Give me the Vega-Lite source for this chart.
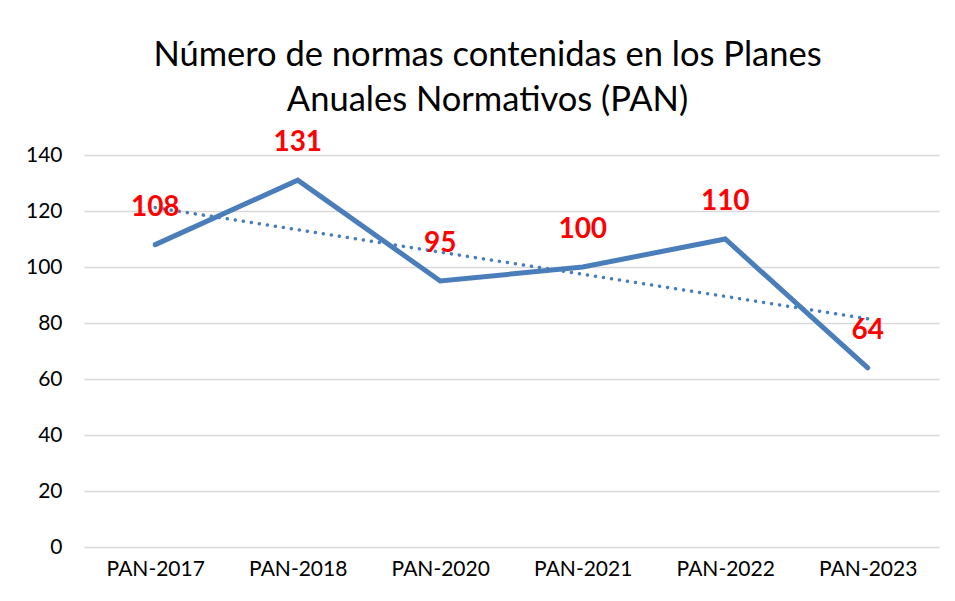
{
  "$schema": "https://vega.github.io/schema/vega-lite/v6.json",
  "width": 855,
  "height": 392,
  "autosize": {"type": "none"},
  "padding": {"left": 84, "top": 155, "right": 16, "bottom": 54},
  "background": "white",
  "title": {
    "text": ["Número de normas contenidas en los Planes", "Anuales Normativos (PAN)"],
    "font": "Lato",
    "fontSize": 34.5,
    "fontWeight": "normal",
    "color": "#000000",
    "lineHeight": 45,
    "anchor": "middle",
    "dx": -24,
    "offset": 11
  },
  "data": {
    "values": [
      {"plan": "PAN-2017", "normas": 108, "tendencia": 121.2},
      {"plan": "PAN-2018", "normas": 131, "tendencia": 113.3},
      {"plan": "PAN-2020", "normas": 95, "tendencia": 105.3},
      {"plan": "PAN-2021", "normas": 100, "tendencia": 97.4},
      {"plan": "PAN-2022", "normas": 110, "tendencia": 89.5},
      {"plan": "PAN-2023", "normas": 64, "tendencia": 81.5}
    ]
  },
  "encoding": {
    "x": {
      "field": "plan",
      "type": "ordinal",
      "sort": null,
      "scale": {"type": "point", "padding": 0.5},
      "axis": {
        "title": null,
        "labelAngle": 0,
        "labelFont": "Lato",
        "labelFontSize": 21,
        "labelColor": "#000000",
        "labelPadding": 11,
        "domain": false,
        "ticks": false,
        "grid": false
      }
    }
  },
  "layer": [
    {
      "mark": {"type": "line", "color": "#4a7ebb", "strokeWidth": 5, "strokeCap": "round", "strokeJoin": "miter"},
      "encoding": {
        "y": {
          "field": "normas",
          "type": "quantitative",
          "scale": {"domain": [0, 140]},
          "axis": {
            "title": null,
            "values": [0, 20, 40, 60, 80, 100, 120, 140],
            "labelFont": "Lato",
            "labelFontSize": 21,
            "labelColor": "#000000",
            "labelPadding": 22,
            "domain": false,
            "ticks": false,
            "gridColor": "#d9d9d9",
            "gridWidth": 1.5
          }
        }
      }
    },
    {
      "mark": {"type": "line", "color": "#4a7ebb", "strokeWidth": 3.5, "strokeDash": [0.1, 8], "strokeCap": "round"},
      "encoding": {
        "y": {"field": "tendencia", "type": "quantitative"}
      }
    },
    {
      "mark": {"type": "text", "color": "#ff0000", "font": "Lato", "fontWeight": "bold", "fontSize": 28, "dy": -37, "baseline": "middle"},
      "encoding": {
        "y": {"field": "normas", "type": "quantitative"},
        "text": {"field": "normas", "type": "quantitative"}
      }
    }
  ],
  "config": {"view": {"stroke": null}}
}
